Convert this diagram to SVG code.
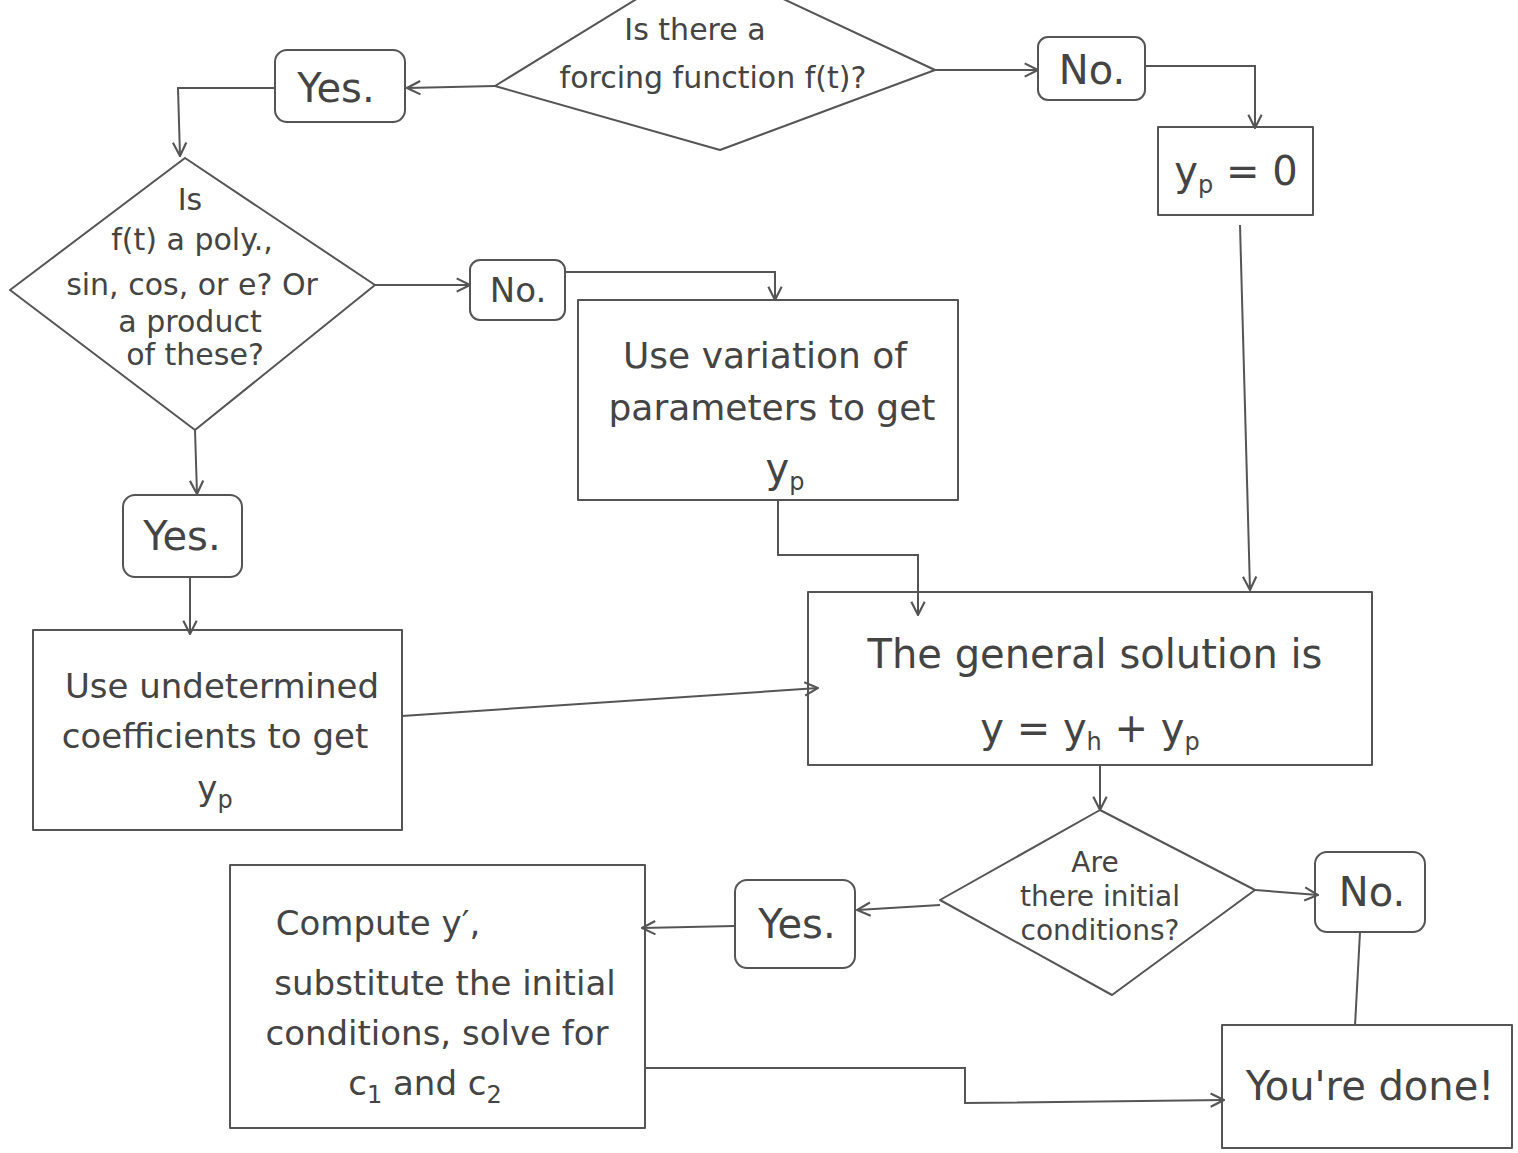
<svg xmlns="http://www.w3.org/2000/svg" width="1518" height="1153" viewBox="0 0 1518 1153">
<defs>
<marker id="arr" viewBox="0 0 12 12" refX="11" refY="6" markerWidth="16" markerHeight="16" markerUnits="userSpaceOnUse" orient="auto">
<path d="M1,1 L11,6 L1,11" fill="none" stroke="#555" stroke-width="1.6"/>
</marker>
</defs>
<style>
.s{fill:none;stroke:#555;stroke-width:2;stroke-linejoin:round;stroke-linecap:round}
.c{fill:none;stroke:#555;stroke-width:2;marker-end:url(#arr)}
.l{fill:none;stroke:#555;stroke-width:2}
text{font-family:"DejaVu Sans","Liberation Sans",sans-serif;fill:#444;text-anchor:middle}
.b{font-size:40px}
.v{font-size:36px}
.m{font-size:34px}
.d{font-size:30px}
.e{font-size:28px}
.sub{font-size:24px}
</style>
<rect width="1518" height="1153" fill="#ffffff"/>
<g id="connectors">
<path class="c" d="M495,86 L407,88"/>
<path class="c" d="M935,70 L1038,70"/>
<path class="c" d="M1145,66 L1255,66 L1255,128"/>
<path class="c" d="M1240,225 L1250,590"/>
<path class="c" d="M275,88 L178,88 L180,156"/>
<path class="c" d="M375,285 L470,285"/>
<path class="c" d="M565,272 L775,272 L775,300"/>
<path class="c" d="M778,500 L778,555 L918,555 L918,615"/>
<path class="c" d="M195,430 L197,494"/>
<path class="c" d="M190,577 L190,634"/>
<path class="c" d="M402,716 L818,688"/>
<path class="c" d="M1100,765 L1100,810"/>
<path class="c" d="M1255,890 L1318,895"/>
<path class="l" d="M1360,932 L1355,1026"/>
<path class="c" d="M940,905 L857,910"/>
<path class="c" d="M735,926 L642,928"/>
<path class="c" d="M645,1068 L965,1068 L965,1103 L1224,1100"/>
</g>
<g id="n-forcing">
<path class="s" d="M495,86 L700,-40 L935,70 L720,150 Z"/>
<text class="d" x="695" y="40">Is there a</text>
<text class="d" x="713" y="88">forcing function f(t)?</text>
</g>
<g id="n-yes1">
<rect class="s" x="275" y="50" width="130" height="72" rx="12"/>
<text class="b" x="336" y="102">Yes.</text>
</g>
<g id="n-no1">
<rect class="s" x="1038" y="37" width="107" height="63" rx="10"/>
<text class="b" x="1092" y="84">No.</text>
</g>
<g id="n-yp0">
<rect class="s" x="1158" y="127" width="155" height="88"/>
<text class="b" x="1236" y="185">y<tspan class="sub" dy="8">p</tspan><tspan dy="-8"> = 0</tspan></text>
</g>
<g id="n-poly">
<path class="s" d="M185,158 L375,285 L195,430 L10,290 Z"/>
<text class="d" x="190" y="210">Is</text>
<text class="d" x="192" y="250">f(t) a poly.,</text>
<text class="d" x="192" y="295">sin, cos, or e? Or</text>
<text class="d" x="190" y="332">a product</text>
<text class="d" x="195" y="365">of these?</text>
</g>
<g id="n-no2">
<rect class="s" x="470" y="260" width="95" height="60" rx="10"/>
<text class="m" x="518" y="302">No.</text>
</g>
<g id="n-variation">
<rect class="s" x="578" y="300" width="380" height="200"/>
<text class="v" x="765" y="368">Use variation of</text>
<text class="v" x="772" y="420">parameters to get</text>
<text class="b" x="785" y="482">y<tspan class="sub" dy="8">p</tspan></text>
</g>
<g id="n-yes2">
<rect class="s" x="123" y="495" width="119" height="82" rx="12"/>
<text class="b" x="182" y="550">Yes.</text>
</g>
<g id="n-undetermined">
<rect class="s" x="33" y="630" width="369" height="200"/>
<text class="m" x="222" y="698">Use undetermined</text>
<text class="m" x="215" y="748">coefficients to get</text>
<text class="m" x="215" y="800">y<tspan class="sub" dy="8">p</tspan></text>
</g>
<g id="n-general">
<rect class="s" x="808" y="592" width="564" height="173"/>
<text class="b" x="1095" y="668">The general solution is</text>
<text class="b" x="1090" y="742">y = y<tspan class="sub" dy="8">h</tspan><tspan dy="-8"> + y</tspan><tspan class="sub" dy="8">p</tspan></text>
</g>
<g id="n-initial">
<path class="s" d="M1100,810 L1255,890 L1112,995 L940,900 Z"/>
<text class="e" x="1095" y="872">Are</text>
<text class="e" x="1100" y="906">there initial</text>
<text class="e" x="1100" y="940">conditions?</text>
</g>
<g id="n-no3">
<rect class="s" x="1315" y="852" width="110" height="80" rx="12"/>
<text class="b" x="1372" y="906">No.</text>
</g>
<g id="n-yes3">
<rect class="s" x="735" y="880" width="120" height="88" rx="12"/>
<text class="b" x="797" y="938">Yes.</text>
</g>
<g id="n-compute">
<rect class="s" x="230" y="865" width="415" height="263"/>
<text class="m" x="378" y="935">Compute y′,</text>
<text class="m" x="445" y="995">substitute the initial</text>
<text class="m" x="437" y="1045">conditions, solve for</text>
<text class="m" x="425" y="1095">c<tspan class="sub" dy="8">1</tspan><tspan dy="-8"> and c</tspan><tspan class="sub" dy="8">2</tspan></text>
</g>
<g id="n-done">
<rect class="s" x="1222" y="1025" width="290" height="123"/>
<text class="b" x="1370" y="1100">You're done!</text>
</g>
</svg>
